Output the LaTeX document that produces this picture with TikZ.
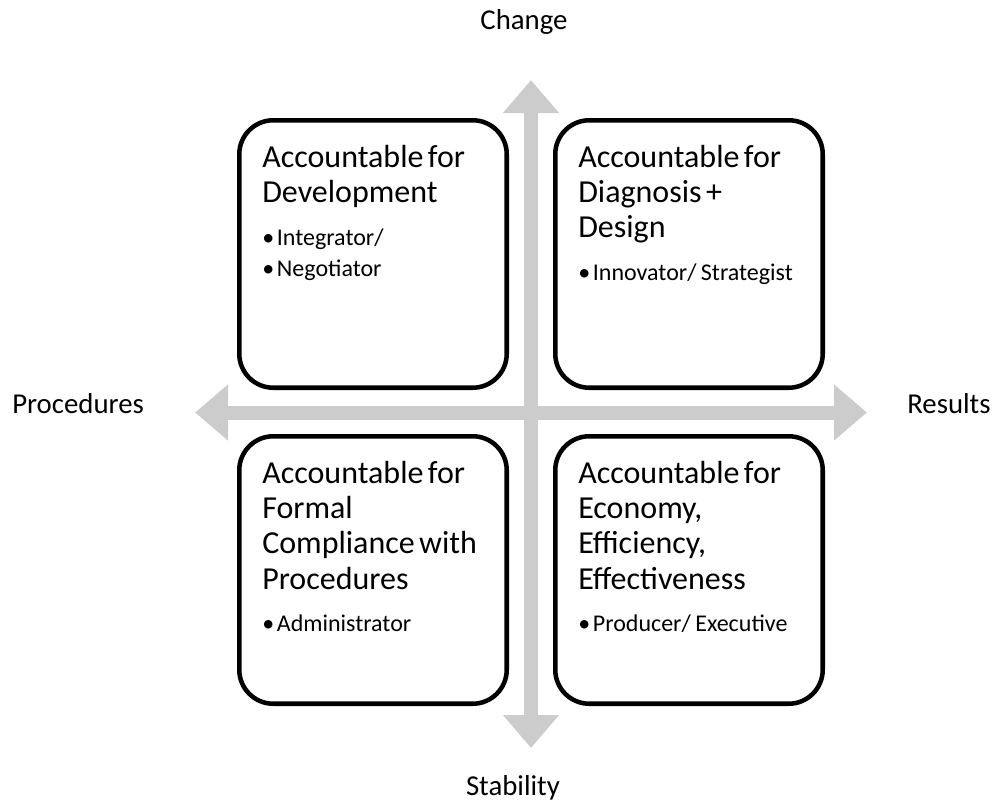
\documentclass[tikz,border=0pt]{standalone}
\usepackage{fontspec}
\setmainfont{Carlito}
\usetikzlibrary{arrows.meta,calc}

\definecolor{axisgray}{HTML}{CCCCCC}
\newcommand{\titlesize}{\fontsize{24}{26.5}\selectfont}
\newcommand{\itemsize}{\fontsize{18}{23.6}\selectfont}
\newcommand{\labelsize}{\fontsize{21.6}{26}\selectfont}
\newcommand{\itm}{•\hspace{2pt}}
\newcommand{\quadtext}[2]{{\titlesize #1\par}\vskip 8.6pt{\itemsize #2\par}}

\tikzset{
	quad/.style={draw, line width=3.4pt, rounded corners=25.5pt, fill=white,
		minimum width=200.6pt, minimum height=200.6pt, inner sep=0pt},
	quadlabel/.style={anchor=base west, text width=185pt, inner sep=0pt, align=left},
	axis/.style={axisgray, line width=10.5pt,
		{Triangle[width=40.5pt,length=24.75pt]}-{Triangle[width=40.5pt,length=24.75pt]}},
	axislabel/.style={font=\labelsize, inner sep=0pt}
}

\begin{document}
\begin{tikzpicture}[x=0.75pt, y=-0.75pt]

	\useasboundingbox (0,0) rectangle (1001,804);

	% axes
	\coordinate (axtop) at (531,80);
	\coordinate (axbot) at (531,748);
	\coordinate (axleft) at (195,412.5);
	\coordinate (axright) at (867,412.5);
	\draw[axis] (axleft) -- (axright);
	\draw[axis] (axbot) -- (axtop);

	\node[axislabel, anchor=base] (change) at (524,29) {Change};
	\node[axislabel, anchor=base] (stability) at (513,795) {Stability};
	\node[axislabel, anchor=base west] (procedures) at (12,413) {Procedures};
	\node[axislabel, anchor=base west] (results) at (907,413) {Results};

	% quadrants
	\node[quad] (dev) at (373,254) {};
	\node[quad] (diag) at (689,254) {};
	\node[quad] (formal) at (373,570) {};
	\node[quad] (econ) at (689,570) {};

	\node[quadlabel] (devtext) at ($(dev.north west)+(25,49)$)
		{\quadtext{Accountable for\par Development}{\itm Integrator/\par \itm Negotiator}};
	\node[quadlabel] (diagtext) at ($(diag.north west)+(25,49)$)
		{\quadtext{Accountable for\par Diagnosis +\par Design}{\itm Innovator/ Strategist}};
	\node[quadlabel] (formaltext) at ($(formal.north west)+(25,49)$)
		{\quadtext{Accountable for\par Formal\par Compliance with\par Procedures}{\itm Administrator}};
	\node[quadlabel] (econtext) at ($(econ.north west)+(25,49)$)
		{\quadtext{Accountable for\par Economy,\par Efficiency,\par Effectiveness}{\itm Producer/ Executive}};

\end{tikzpicture}
\end{document}
